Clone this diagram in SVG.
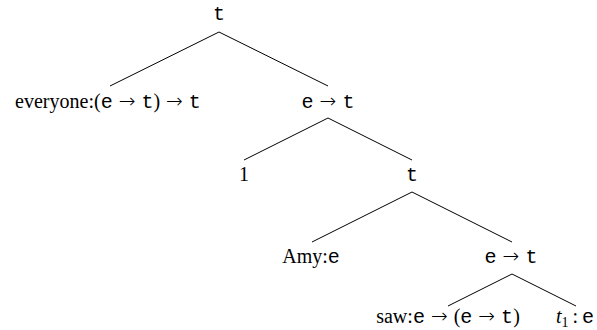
<svg xmlns="http://www.w3.org/2000/svg" width="597" height="330" viewBox="0 0 597 330">
<style>
text{font-family:"Liberation Serif","Times New Roman",serif;font-size:20px;fill:#000;text-anchor:middle}
.m{font-family:"Liberation Mono","DejaVu Sans Mono",monospace;font-size:20px}
.a{font-family:"DejaVu Sans",sans-serif;font-size:20px;font-weight:300}
.i{font-style:italic}
.s{font-size:14px}
#edges line{stroke:#000;stroke-width:1}
</style>
<g id="edges">
<line x1="219" y1="32" x2="110" y2="86"/>
<line x1="219" y1="32" x2="328" y2="86"/>
<line x1="328" y1="118" x2="244" y2="160"/>
<line x1="328" y1="118" x2="412" y2="160"/>
<line x1="412" y1="192" x2="312" y2="242"/>
<line x1="412" y1="192" x2="512" y2="242"/>
<line x1="512" y1="274" x2="448" y2="306"/>
<line x1="512" y1="274" x2="576" y2="306"/>
</g>
<g id="n_root"><text x="219" y="20"><tspan class="m">t</tspan></text></g>
<g id="n_everyone"><text x="108" y="108">everyone:(<tspan class="m">e</tspan><tspan class="a" dx="6">→</tspan><tspan class="m" dx="6">t</tspan>)<tspan class="a" dx="6">→</tspan><tspan class="m" dx="6">t</tspan></text></g>
<g id="n_et1"><text x="328" y="108"><tspan class="m">e</tspan><tspan class="a" dx="6">→</tspan><tspan class="m" dx="6">t</tspan></text></g>
<g id="n_1"><text x="244" y="181">1</text></g>
<g id="n_t2"><text x="412" y="181"><tspan class="m">t</tspan></text></g>
<g id="n_amy"><text x="311" y="263">Amy:<tspan class="m">e</tspan></text></g>
<g id="n_et2"><text x="511" y="263"><tspan class="m">e</tspan><tspan class="a" dx="6">→</tspan><tspan class="m" dx="6">t</tspan></text></g>
<g id="n_saw"><text x="448" y="323">saw:<tspan class="m">e</tspan><tspan class="a" dx="6">→</tspan><tspan dx="6">(</tspan><tspan class="m">e</tspan><tspan class="a" dx="6">→</tspan><tspan class="m" dx="6">t</tspan>)</text></g>
<g id="n_t1"><text x="575" y="323"><tspan class="i">t</tspan><tspan class="s" dy="4">1</tspan><tspan dy="-4" dx="4">:</tspan><tspan class="m" dx="4">e</tspan></text></g>
</svg>
